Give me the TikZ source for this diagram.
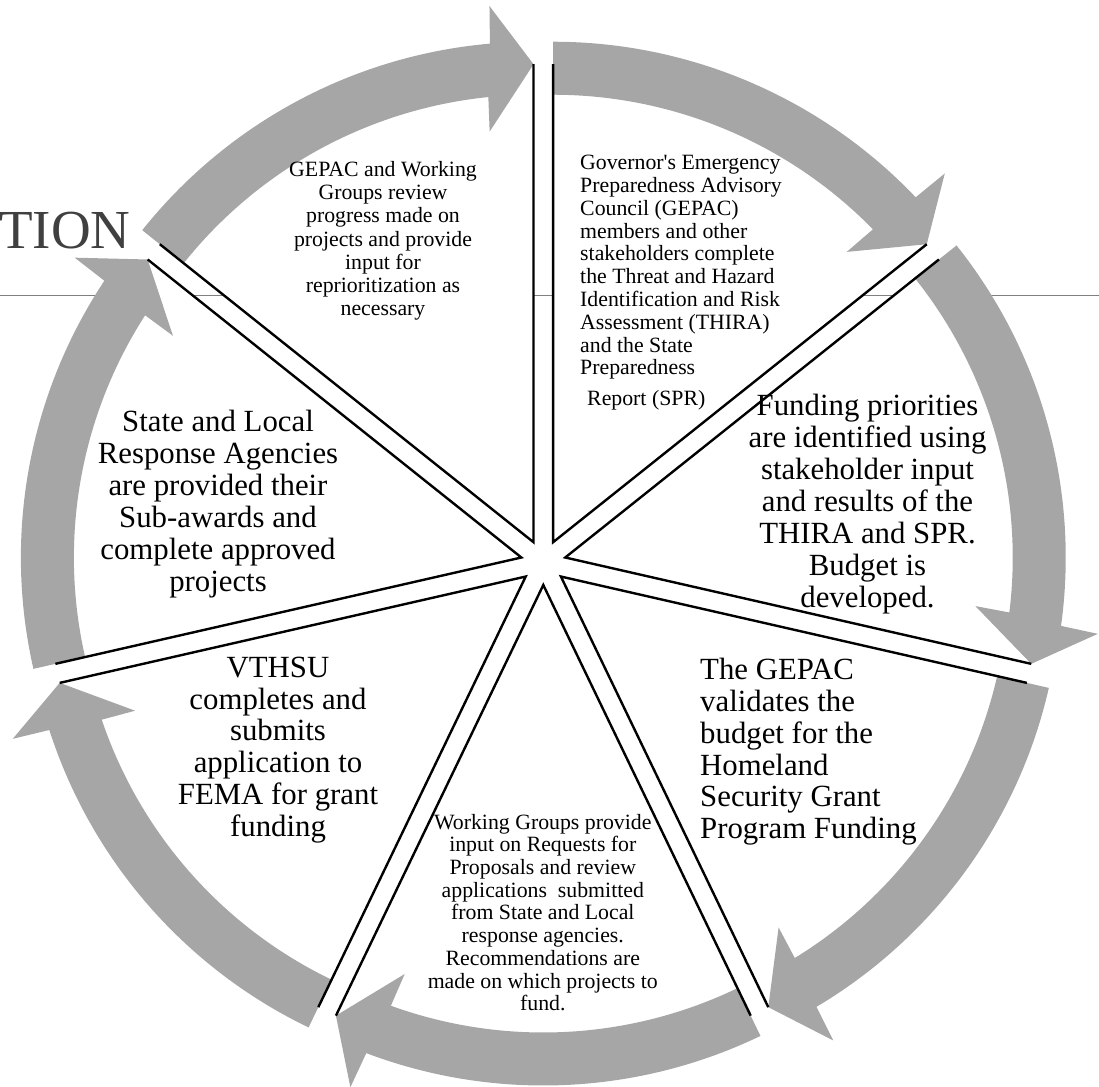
\documentclass[tikz,border=0pt]{standalone}
\usepackage{fontspec}
\setmainfont{Liberation Serif}
\usetikzlibrary{calc}
\definecolor{arrowgray}{RGB}{166,166,166}
\definecolor{titlegray}{RGB}{64,64,64}
\definecolor{rulegray}{RGB}{128,128,128}
\tikzset{
  slicefill/.style={fill=white},
  ringarrow/.style={fill=arrowgray},
  sliceedge/.style={draw=black, line width=2.4pt, line join=miter},
  smalltxt/.style={inner sep=0pt, font=\fontsize{21.8pt}{23.3pt}\selectfont},
  bigtxt/.style={inner sep=0pt, font=\fontsize{30.8pt}{31.9pt}\selectfont},
}
\begin{document}
\begin{tikzpicture}[x=1pt,y=1pt]
\useasboundingbox (0,0) rectangle (1099,-1086);
% background title fragment and rule
\node[anchor=base west, inner sep=0pt, text=titlegray, font=\fontsize{55pt}{60pt}\selectfont] (title) at (-1,-248.3) {TION};
\coordinate (ruleL) at (0,-295);
\coordinate (ruleR) at (1099,-295);
\draw[rulegray, line width=1pt] (ruleL) -- (ruleR);
\coordinate (C) at (543.3,-562.5);
\def\ang{51.4285714}
% slice centres (exploded)
\foreach \i in {0,...,6}{
  \pgfmathsetmacro\b{90-\ang*\i-\ang/2}
  \coordinate (S\i) at ($(C)+(\b:22.5pt)$);
}
% white slices
\foreach \i in {0,...,6}{
  \pgfmathsetmacro\a{90-\ang*\i}
  \pgfmathsetmacro\e{\a-\ang}
  \fill[slicefill] (S\i) -- ($(S\i)+(\a:479pt)$) arc[start angle=\a, end angle=\e, radius=479pt] -- cycle;
}
% gray ring arrows
\foreach \i in {0,...,6}{
  \pgfmathsetmacro\a{90-\ang*\i}
  \pgfmathsetmacro\e{\a-\ang}
  \pgfmathsetmacro\so{\e+5.0}
  \pgfmathsetmacro\ho{\e+4.7}
  \pgfmathsetmacro\hi{\e+6.1}
  \pgfmathsetmacro\si{\e+5.8}
  \fill[ringarrow] ($(S\i)+(\a:500.5pt)$) arc[start angle=\a, end angle=\so, radius=500.5pt]
    -- ($(S\i)+(\ho:538pt)$) -- ($(S\i)+(\e:478pt)$) -- ($(S\i)+(\hi:413pt)$)
    -- ($(S\i)+(\si:447.5pt)$) arc[start angle=\si, end angle=\a, radius=447.5pt] -- cycle;
}
% slice edges
\foreach \i in {0,...,6}{
  \pgfmathsetmacro\a{90-\ang*\i}
  \pgfmathsetmacro\e{\a-\ang}
  \draw[sliceedge] ($(S\i)+(\a:478pt)$) -- (S\i) -- ($(S\i)+(\e:478pt)$);
}
% texts
\node[smalltxt, align=center] (t6) at (383,-240.8) {GEPAC and Working\\Groups review\\progress made on\\projects and provide\\input for\\reprioritization as\\necessary};
\node[smalltxt, align=left, anchor=west, font=\fontsize{21.8pt}{22.8pt}\selectfont] (t0) at (580,-267.5) {Governor\textquotesingle s Emergency\\Preparedness Advisory\\Council (GEPAC)\\members and other\\stakeholders complete\\the Threat and Hazard\\Identification and Risk\\Assessment (THIRA)\\and the State\\Preparedness};
\node[smalltxt, anchor=west] (t0b) at (587,-400) {Report (SPR)};
\node[bigtxt, align=center] (t1) at (867.5,-504.2) {Funding priorities\\are identified using\\stakeholder input\\and results of the\\THIRA and SPR.\\Budget is\\developed.};
\node[bigtxt, align=left, anchor=west] (t2) at (700,-751.7) {The GEPAC\\validates the\\budget for the\\Homeland\\Security Grant\\Program Funding};
\node[smalltxt, align=center, font=\fontsize{21.8pt}{22.7pt}\selectfont] (t3) at (542.8,-912.5) {Working Groups provide\\input on Requests for\\Proposals and review\\applications\ \ submitted\\from State and Local\\response agencies.\\Recommendations are\\made on which projects to\\fund.};
\node[bigtxt, align=center] (t4) at (278,-750) {VTHSU\\completes and\\submits\\application to\\FEMA for grant\\funding};
\node[bigtxt, align=center] (t5) at (218,-504.2) {State and Local\\Response Agencies\\are provided their\\Sub-awards and\\complete approved\\projects};
\end{tikzpicture}
\end{document}
